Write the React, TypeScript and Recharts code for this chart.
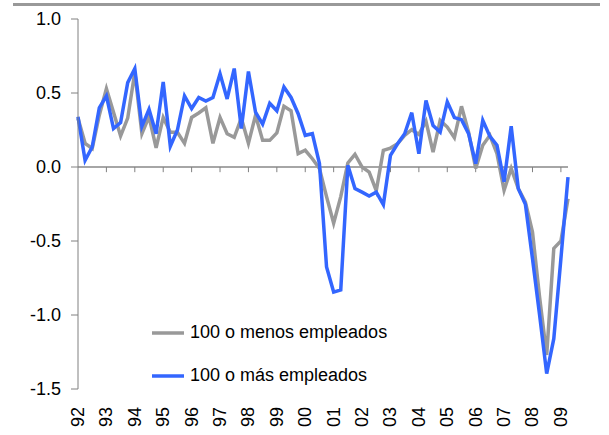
import React from 'react';
import { LineChart, Line, XAxis, YAxis, ReferenceLine, Legend } from 'recharts';

const years = ['92','93','94','95','96','97','98','99','00','01','02','03','04','05','06','07','08','09'];
const yTicks = [-1.5, -1.0, -0.5, 0, 0.5, 1.0];

const smallFirms = [
  0.33, 0.16, 0.125, 0.35, 0.53, 0.37, 0.21, 0.33, 0.64, 0.225,
  0.34, 0.13, 0.335, 0.235, 0.235, 0.16, 0.335, 0.365, 0.40, 0.16,
  0.335, 0.225, 0.20, 0.33, 0.16, 0.35, 0.18, 0.18, 0.23, 0.41,
  0.38, 0.09, 0.113, 0.056, -0.01, -0.20, -0.38, -0.20, 0.027, 0.086,
  0.0, -0.034, -0.16, 0.113, 0.128, 0.157, 0.214, 0.252, 0.22, 0.31,
  0.10, 0.315, 0.27, 0.198, 0.41, 0.236, -0.01, 0.147, 0.214, 0.09,
  -0.157, -0.01, -0.146, -0.237, -0.44, -0.88, -1.27, -0.55, -0.50, -0.214,
];

const largeFirms = [
  0.34, 0.045, 0.135, 0.40, 0.48, 0.26, 0.30, 0.57, 0.665, 0.275,
  0.39, 0.225, 0.575, 0.14, 0.25, 0.48, 0.395, 0.47, 0.445, 0.47,
  0.63, 0.46, 0.665, 0.26, 0.645, 0.37, 0.29, 0.43, 0.38, 0.54,
  0.47, 0.36, 0.214, 0.225, 0.023, -0.676, -0.845, -0.83, 0.011, -0.146,
  -0.17, -0.196, -0.17, -0.254, 0.079, 0.157, 0.225, 0.367, 0.09, 0.45,
  0.28, 0.236, 0.44, 0.334, 0.32, 0.225, 0.023, 0.315, 0.207, 0.147,
  -0.10, 0.275, -0.146, -0.252, -0.62, -1.0, -1.396, -1.16, -0.62, -0.068,
];

const quarters: string[] = [];
years.forEach((y) => {
  for (let q = 1; q <= 4; q++) quarters.push(`${y}-${q}`);
});

const data = smallFirms.map((v, i) => ({
  q: quarters[i],
  small: v,
  large: largeFirms[i],
}));

const yearTicks = years.map((y) => `${y}-1`);

const FONT = '"Liberation Sans", Arial, sans-serif';

const XTick = (props: any) => {
  const { x, y, payload } = props;
  const ty = y + 10;
  return (
    <text
      x={x}
      y={ty}
      transform={`rotate(-90 ${x} ${ty})`}
      textAnchor="end"
      dominantBaseline="central"
      fontSize={18}
      fontFamily={FONT}
      fill="#000"
    >
      {String(payload.value).split('-')[0]}
    </text>
  );
};

const renderLegend = (props: any) => {
  const { payload } = props;
  return (
    <div>
      {(payload || []).map((e: any, i: number) => (
        <div key={i} style={{ display: 'flex', alignItems: 'center', height: 43 }}>
          <svg width={32} height={6}>
            <line x1={0} y1={3} x2={32} y2={3} stroke={e.color} strokeWidth={3.5} />
          </svg>
          <span style={{ marginLeft: 6, fontSize: 18, fontFamily: FONT, color: '#000', whiteSpace: 'nowrap' }}>
            {e.value}
          </span>
        </div>
      ))}
    </div>
  );
};

export default function App() {
  return (
    <div style={{ position: 'absolute', left: 0, top: 0, width: 609, height: 435, background: '#fff' }}>
      <div style={{ position: 'absolute', left: 13, top: 3, width: 587, height: 3, background: '#999' }} />
      <LineChart
        width={609}
        height={435}
        data={data}
        margin={{ top: 19, right: 41, bottom: 6, left: 0 }}
      >
        <XAxis
          dataKey="q"
          ticks={yearTicks}
          interval={0}
          axisLine={false}
          tickLine={false}
          height={40}
          tick={<XTick />}
        />
        <YAxis
          domain={[-1.5, 1.0]}
          ticks={yTicks}
          width={78}
          tickFormatter={(v: number) => v.toFixed(1)}
          axisLine={{ stroke: '#808080', strokeWidth: 1 }}
          tickLine={{ stroke: '#808080' }}
          tickSize={7}
          tickMargin={10}
          tick={{ fontSize: 18, fontFamily: FONT, fill: '#000' }}
        />
        <ReferenceLine y={0} stroke="#a6a6a6" strokeWidth={2} />
        {yearTicks.slice(1).map((t) => (
          <ReferenceLine
            key={t}
            segment={[{ x: t, y: 0 }, { x: t, y: -0.035 }]}
            stroke="#808080"
            strokeWidth={1}
          />
        ))}
        <Line
          type="linear"
          dataKey="small"
          name="100 o menos empleados"
          stroke="#999999"
          strokeWidth={3.5}
          dot={false}
          isAnimationActive={false}
        />
        <Line
          type="linear"
          dataKey="large"
          name="100 o más empleados"
          stroke="#3366FF"
          strokeWidth={3.5}
          dot={false}
          isAnimationActive={false}
        />
        <Legend
          layout="vertical"
          align="center"
          verticalAlign="middle"
          content={renderLegend}
          wrapperStyle={{ left: 152, top: 311, width: 280, height: 86 }}
        />
      </LineChart>
    </div>
  );
}
